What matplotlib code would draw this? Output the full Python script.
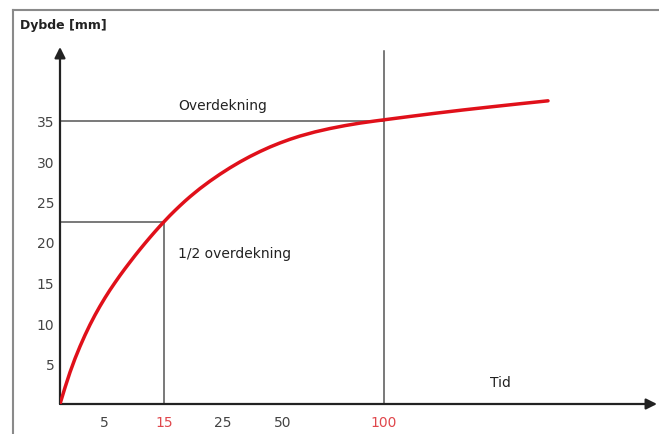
import matplotlib.pyplot as plt
from matplotlib.lines import Line2D

# schematic x axis (position units, 1 unit ~ 10 px); labels are the time values
x_tick_pos = [4.4, 10.4, 16.3, 22.3, 32.4]
x_tick_labels = ["5", "15", "25", "50", "100"]
x_tick_colors = ["#444444", "#e0474c", "#444444", "#444444", "#e0474c"]

y_ticks = [5, 10, 15, 20, 25, 30, 35]

# depth curve
curve_x = [0, 0.5, 1.0, 1.5, 2.0, 2.5, 3.0, 3.5, 4.0, 4.5, 5.0, 5.5, 6.0, 6.5,
           7.0, 7.5, 8.0, 8.5, 9.0, 9.5, 10.0, 10.4, 11.0, 11.5, 12.0, 12.5,
           13.0, 13.5, 14.0, 15.0, 16.0, 17.0, 18.0, 19.0, 20.0, 21.0, 22.0,
           23.0, 24.0, 25.5, 27.0, 28.5, 30.0, 31.5, 32.5, 35.0, 37.5, 40.3,
           43.0, 46.0, 48.8]
curve_y = [0, 2.03, 3.92, 5.6, 7.11, 8.5, 9.79, 10.98, 12.08, 13.11, 14.08,
           14.99, 15.87, 16.71, 17.52, 18.32, 19.09, 19.84, 20.57, 21.28, 21.97,
           22.5, 23.28, 23.89, 24.48, 25.05, 25.59, 26.1, 26.6, 27.52, 28.37,
           29.16, 29.89, 30.56, 31.17, 31.73, 32.23, 32.68, 33.08, 33.59, 34.01,
           34.37, 34.68, 34.94, 35.1, 35.5, 35.89, 36.3, 36.67, 37.07, 37.43]

full_depth = 35.0
half_depth = 22.5
half_x = 10.4
full_x = 32.4

W, H = 659, 435
fig = plt.figure(figsize=(W / 100, H / 100), dpi=100)

# axes placed so the origin sits at (60, 405) px
left, bottom = 60, 30
width, height = 597, 357
ax = fig.add_axes([left / W, bottom / H, width / W, height / H])
ax.set_xlim(0, width / 10)
ax.set_ylim(0, height / 8.1)
for s in ax.spines.values():
    s.set_visible(False)

# outer frame (left and top only, image is cropped)
fig.add_artist(Line2D([12.5 / W, 12.5 / W], [0, 1 - 11 / H], color="#8a8a8a", lw=1.5,
                      transform=fig.transFigure))
fig.add_artist(Line2D([12.5 / W, 1], [1 - 11 / H, 1 - 11 / H], color="#8a8a8a", lw=1.5,
                      transform=fig.transFigure))

grey = "#555555"
# guide lines
ax.plot([0, full_x], [full_depth, full_depth], color=grey, lw=1.1)
ax.plot([full_x, full_x], [0, 43.6], color=grey, lw=1.1)
ax.plot([0, half_x], [half_depth, half_depth], color=grey, lw=1.1)
ax.plot([half_x, half_x], [0, half_depth], color=grey, lw=1.1)

# axes with arrows
ax.annotate("", xy=(width / 10, 0), xytext=(0, 0),
            arrowprops=dict(arrowstyle="-|>", color="#222222", lw=1.6,
                            mutation_scale=16, shrinkA=0, shrinkB=0),
            annotation_clip=False)
ax.annotate("", xy=(0, height / 8.1), xytext=(0, 0),
            arrowprops=dict(arrowstyle="-|>", color="#222222", lw=1.6,
                            mutation_scale=16, shrinkA=0, shrinkB=0),
            annotation_clip=False)

# curve
ax.plot(curve_x, curve_y, color="#e0101a", lw=2.5, solid_capstyle="round",
        solid_joinstyle="round", zorder=5)

# ticks
ax.set_xticks(x_tick_pos)
ax.set_xticklabels(x_tick_labels)
for lab, c in zip(ax.get_xticklabels(), x_tick_colors):
    lab.set_color(c)
ax.set_yticks(y_ticks)
ax.set_yticklabels([str(v) for v in y_ticks], color="#444444")
ax.tick_params(axis="both", length=0, labelsize=10)
ax.tick_params(axis="x", pad=8)
ax.tick_params(axis="y", pad=4)

# texts
fig.text(20 / W, 1 - 25 / H, "Dybde [mm]", fontsize=9, color="#222222",
         fontweight="bold", va="center", ha="left")
ax.text(16.3, full_depth + 1.0, "Overdekning", fontsize=10, color="#222222",
        ha="center", va="bottom")
ax.text(11.8, 18.7, "1/2 overdekning", fontsize=10, color="#222222",
        ha="left", va="center")
ax.text(44.0, 2.7, "Tid", fontsize=10, color="#222222", ha="center", va="center")

fig.savefig("out.png", dpi=100)
